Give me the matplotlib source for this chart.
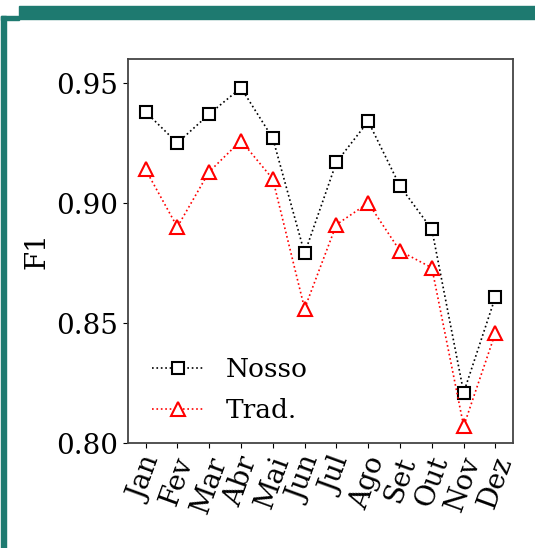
import numpy as np
import matplotlib.pyplot as plt
from matplotlib.patches import Rectangle

meses = ['Jan', 'Fev', 'Mar', 'Abr', 'Mai', 'Jun', 'Jul', 'Ago', 'Set', 'Out', 'Nov', 'Dez']
nosso = [0.938, 0.925, 0.937, 0.948, 0.927, 0.879, 0.917, 0.934, 0.907, 0.889, 0.821, 0.861]
trad = [0.914, 0.890, 0.913, 0.926, 0.910, 0.856, 0.891, 0.900, 0.880, 0.873, 0.807, 0.846]

plt.rcParams['font.family'] = 'DejaVu Serif'

W, H = 535, 548
fig = plt.figure(figsize=(W / 100, H / 100), dpi=100)

# moldura verde (barra de cima + lateral esquerda)
teal = '#1e7a70'
def px_rect(x0, y0, x1, y1):
    return Rectangle((x0 / W, 1 - y1 / H), (x1 - x0) / W, (y1 - y0) / H,
                     transform=fig.transFigure, color=teal, zorder=0)
fig.patches.append(px_rect(19, 6, 535, 19))
fig.patches.append(px_rect(1, 16, 19, 20))
fig.patches.append(px_rect(1, 16, 6, 548))

ax = fig.add_axes([128 / W, 1 - 443 / H, (513 - 128) / W, (443 - 59) / H])
x = np.arange(len(meses))
ax.plot(x, nosso, ':', color='black', lw=1.2, marker='s', ms=9,
        mfc='white', mec='black', mew=1.5, label='Nosso')
ax.plot(x, trad, ':', color='red', lw=1.2, marker='^', ms=10,
        mfc='white', mec='red', mew=1.5, label='Trad.')

ax.set_ylim(0.80, 0.96)
ax.set_yticks([0.80, 0.85, 0.90, 0.95])
ax.set_xticks(x)
ax.set_xticklabels(meses, rotation=70)
ax.tick_params(labelsize=20)
ax.set_ylabel('F1', fontsize=20)
for s in ax.spines.values():
    s.set_color('#444444')
    s.set_linewidth(1.3)
ax.legend(loc='lower left', frameon=False, fontsize=19, labelspacing=0.6,
          bbox_to_anchor=(0.0, -0.01))

fig.savefig('out.png', dpi=100)
